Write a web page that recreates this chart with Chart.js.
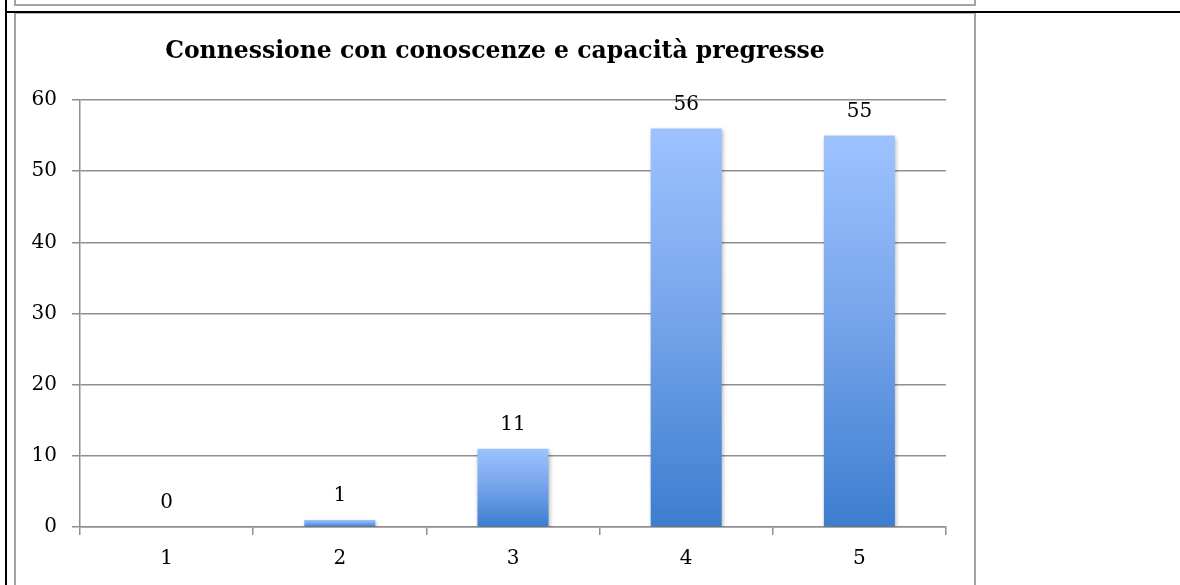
<!DOCTYPE html>
<html>
<head>
<meta charset="utf-8">
<script src="https://cdn.jsdelivr.net/npm/chart.js@4/dist/chart.umd.min.js"></script>
<style>
    body { margin: 0; background: #fff; }
    #wrap { position: relative; width: 1180px; height: 585px; overflow: hidden; }
    .ln { position: absolute; }
    #chart { position: absolute; left: 0; top: 0; }
</style>
</head>
<body>
<div id="wrap">
    <!-- cornice della tabella -->
    <div class="ln" style="left:5px;top:0;width:2px;height:585px;background:#000"></div>
    <div class="ln" style="left:14px;top:4px;width:962px;height:2px;background:#a3a3a3"></div>
    <div class="ln" style="left:14px;top:0;width:2px;height:5px;background:#a3a3a3"></div>
    <div class="ln" style="left:974px;top:0;width:2px;height:5px;background:#a3a3a3"></div>
    <div class="ln" style="left:5px;top:11px;width:1175px;height:2px;background:#000"></div>
    <div class="ln" style="left:14px;top:13px;width:962px;height:1px;background:#b5b5b5"></div>
    <div class="ln" style="left:14px;top:13px;width:2px;height:572px;background:#a3a3a3"></div>
    <div class="ln" style="left:974px;top:13px;width:2px;height:572px;background:#a3a3a3"></div>
    <canvas id="chart" width="1180" height="585"></canvas>
</div>
<script>
const categorie = ['1', '2', '3', '4', '5'];
const valori = [0, 1, 11, 56, 55];
const titolo = 'Connessione con conoscenze e capacità pregresse';

const serif = 'DejaVu Serif';

// gradiente per ogni barra (chiaro in alto, scuro in basso)
function barGradient(c) {
    const chart = c.chart;
    if (!chart.chartArea) return '#6a9be6';
    const y = chart.scales.y;
    const top = y.getPixelForValue(c.raw);
    const bottom = y.getPixelForValue(0);
    if (bottom - top < 1) return '#6a9be6';
    const g = chart.ctx.createLinearGradient(0, top, 0, bottom);
    g.addColorStop(0, '#9dc3ff');
    g.addColorStop(0.45, '#78a6ec');
    g.addColorStop(1, '#3d7dcf');
    return g;
}

// ombra leggera sotto le barre
const shadowPlugin = {
    id: 'barShadow',
    beforeDatasetsDraw(chart) {
        const ctx = chart.ctx;
        ctx.save();
        ctx.shadowColor = 'rgba(0,0,0,0.28)';
        ctx.shadowBlur = 4;
        ctx.shadowOffsetX = 1;
        ctx.shadowOffsetY = 2;
    },
    afterDatasetsDraw(chart) {
        chart.ctx.restore();
    }
};

// titolo (centrato sulla cornice, non sull'area del grafico) e valori sopra le barre
const labelPlugin = {
    id: 'valueLabels',
    afterDraw(chart) {
        const ctx = chart.ctx;
        const meta = chart.getDatasetMeta(0);
        ctx.save();
        ctx.fillStyle = '#000';
        ctx.textAlign = 'center';
        ctx.textBaseline = 'middle';
        ctx.font = 'bold 23.5px "' + serif + '"';
        ctx.fillText(titolo, 495, 52);
        ctx.font = '20px "' + serif + '"';
        meta.data.forEach((bar, i) => {
            ctx.fillText(String(valori[i]), bar.x, bar.y - 24);
        });
        ctx.restore();
    }
};

new Chart(document.getElementById('chart'), {
    type: 'bar',
    data: {
        labels: categorie,
        datasets: [{
            data: valori,
            backgroundColor: barGradient,
            borderWidth: 0,
            categoryPercentage: 1,
            barPercentage: 0.41,
        }]
    },
    options: {
        responsive: false,
        animation: false,
        layout: { padding: { left: 0, right: 234, top: 100, bottom: 0 } },
        plugins: {
            legend: { display: false },
            tooltip: { enabled: false },
            title: { display: false }
        },
        scales: {
            x: {
                afterFit: (scale) => { scale.height = 58; },
                grid: {
                    offset: true,
                    drawOnChartArea: false,
                    drawTicks: true,
                    tickLength: 8,
                    color: '#8f8f8f',
                    lineWidth: 1.5,
                },
                border: { color: '#8f8f8f', width: 1.5 },
                ticks: {
                    color: '#000',
                    padding: 12,
                    font: { family: serif, size: 20 },
                }
            },
            y: {
                min: 0,
                max: 60,
                afterFit: (scale) => { scale.width = 80; },
                grid: {
                    drawTicks: true,
                    tickLength: 8,
                    color: '#8f8f8f',
                    lineWidth: 1.5,
                },
                border: { color: '#8f8f8f', width: 1.5 },
                ticks: {
                    stepSize: 10,
                    color: '#000',
                    padding: 15,
                    font: { family: serif, size: 20 },
                }
            }
        }
    },
    plugins: [shadowPlugin, labelPlugin]
});
</script>
</body>
</html>
